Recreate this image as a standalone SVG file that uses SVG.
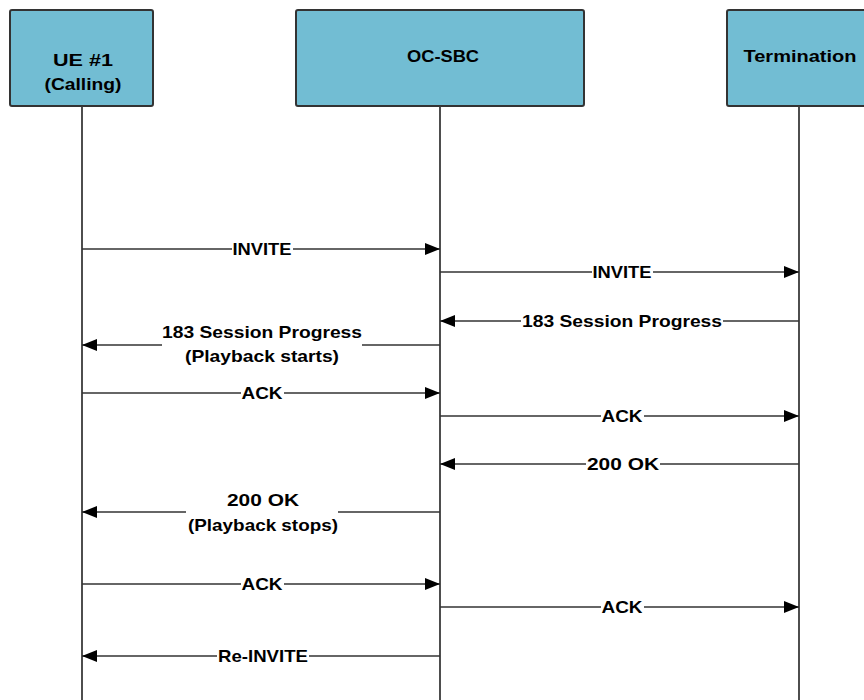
<svg xmlns="http://www.w3.org/2000/svg" width="864" height="700" viewBox="0 0 864 700">
<style>
.box{fill:#72BDD3;stroke:#333;stroke-width:2}
.life{stroke:#3a3a3a;stroke-width:1.8;fill:none}
.msg{stroke:#333;stroke-width:1.5;fill:none;marker-end:url(#ah)}
.t{font-family:"Liberation Sans",Arial,sans-serif;font-weight:bold;font-size:17px;fill:#000;text-anchor:middle}
.bg{fill:#fff}
</style>
<defs>
<marker id="ah" markerUnits="userSpaceOnUse" markerWidth="16" markerHeight="12" refX="15" refY="6" orient="auto">
<path d="M0,0 L15,6 L0,12 z" fill="#000"/>
</marker>
</defs>
<rect width="864" height="700" fill="#fff"/>
<g id="ue1">
<rect class="box" x="10" y="10" width="143" height="96" rx="2"/>
<text class="t" x="83" y="66" textLength="60" lengthAdjust="spacingAndGlyphs">UE #1</text>
<text class="t" x="83" y="90" textLength="77" lengthAdjust="spacingAndGlyphs">(Calling)</text>
<line class="life" x1="82" y1="106" x2="82" y2="700"/>
</g>
<g id="ocsbc">
<rect class="box" x="296" y="10" width="288" height="96" rx="2"/>
<text class="t" x="443" y="62" textLength="72" lengthAdjust="spacingAndGlyphs">OC-SBC</text>
<line class="life" x1="440" y1="106" x2="440" y2="700"/>
</g>
<g id="termination">
<rect class="box" x="727" y="10" width="150" height="96" rx="2"/>
<text class="t" x="800" y="62" textLength="113" lengthAdjust="spacingAndGlyphs">Termination</text>
<line class="life" x1="799" y1="106" x2="799" y2="700"/>
</g>
<g id="connectors">
<line class="msg" x1="82" y1="249" x2="440" y2="249"/>
<line class="msg" x1="440" y1="272" x2="799" y2="272"/>
<line class="msg" x1="799" y1="321" x2="440" y2="321"/>
<line class="msg" x1="440" y1="345" x2="82" y2="345"/>
<line class="msg" x1="82" y1="393" x2="440" y2="393"/>
<line class="msg" x1="440" y1="416" x2="799" y2="416"/>
<line class="msg" x1="799" y1="464" x2="440" y2="464"/>
<line class="msg" x1="440" y1="512" x2="82" y2="512"/>
<line class="msg" x1="82" y1="584" x2="440" y2="584"/>
<line class="msg" x1="440" y1="607" x2="799" y2="607"/>
<line class="msg" x1="440" y1="656" x2="82" y2="656"/>
</g>
<g id="labels">
<rect class="bg" x="232" y="241" width="61" height="15"/>
<text class="t" x="262" y="255" textLength="59" lengthAdjust="spacingAndGlyphs">INVITE</text>
<rect class="bg" x="592" y="264" width="61" height="15"/>
<text class="t" x="622" y="278" textLength="59" lengthAdjust="spacingAndGlyphs">INVITE</text>
<rect class="bg" x="521" y="313" width="202" height="15"/>
<text class="t" x="622" y="327" textLength="200" lengthAdjust="spacingAndGlyphs">183 Session Progress</text>
<rect class="bg" x="162" y="323" width="200" height="44"/>
<text class="t" x="262" y="338" textLength="200" lengthAdjust="spacingAndGlyphs">183 Session Progress</text>
<text class="t" x="262" y="362" textLength="154" lengthAdjust="spacingAndGlyphs">(Playback starts)</text>
<rect class="bg" x="241" y="385" width="43" height="15"/>
<text class="t" x="262" y="399" textLength="41" lengthAdjust="spacingAndGlyphs">ACK</text>
<rect class="bg" x="601" y="408" width="43" height="15"/>
<text class="t" x="622" y="422" textLength="41" lengthAdjust="spacingAndGlyphs">ACK</text>
<rect class="bg" x="586" y="456" width="74" height="15"/>
<text class="t" x="623" y="470" textLength="72" lengthAdjust="spacingAndGlyphs">200 OK</text>
<rect class="bg" x="186" y="491" width="152" height="44"/>
<text class="t" x="263" y="506" textLength="72" lengthAdjust="spacingAndGlyphs">200 OK</text>
<text class="t" x="263" y="531" textLength="150" lengthAdjust="spacingAndGlyphs">(Playback stops)</text>
<rect class="bg" x="241" y="576" width="43" height="15"/>
<text class="t" x="262" y="590" textLength="41" lengthAdjust="spacingAndGlyphs">ACK</text>
<rect class="bg" x="601" y="599" width="43" height="15"/>
<text class="t" x="622" y="613" textLength="41" lengthAdjust="spacingAndGlyphs">ACK</text>
<rect class="bg" x="217" y="648" width="92" height="15"/>
<text class="t" x="263" y="662" textLength="90" lengthAdjust="spacingAndGlyphs">Re-INVITE</text>
</g>
</svg>
